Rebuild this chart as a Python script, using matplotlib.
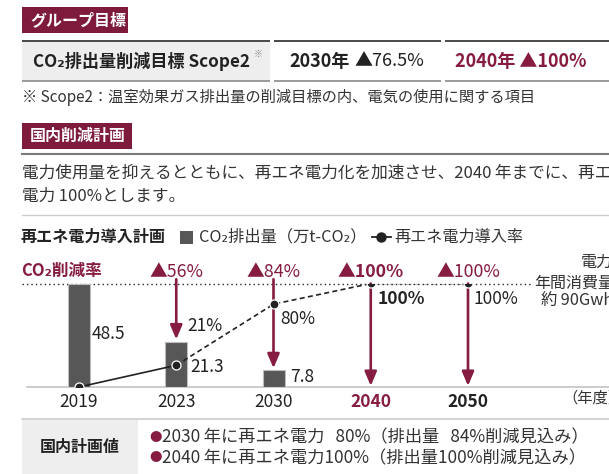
import matplotlib
matplotlib.use("Agg")
import matplotlib.pyplot as plt
from matplotlib.patches import Rectangle
from matplotlib.transforms import blended_transform_factory

plt.rcParams['font.family'] = ['Noto Sans CJK JP', 'DejaVu Sans']

# ---- data ----
years = ["2019", "2023", "2030", "2040", "2050"]
co2 = [48.5, 21.3, 7.8, 0, 0]            # CO2排出量（万t-CO2）
renew = [0, 21, 80, 100, 100]            # 再エネ電力導入率 (%)
reduction = ["", "▲56%", "▲84%", "▲100%", "▲100%"]
bar_labels = ["48.5", "21.3", "7.8"]
renew_labels = ["", "21%", "80%", "100%", "100%"]

MAROON = '#861c41'
HEAD = '#7e1a3c'
DARK = '#222222'
TXT = '#333333'
BAR = '#575757'

W, H = 609, 474
fig = plt.figure(figsize=(W / 100, H / 100), dpi=100)
bg = fig.add_axes([0, 0, 1, 1])
bg.set_xlim(0, W)
bg.set_ylim(H, 0)
bg.axis('off')

def T(x, y, s, size=11, weight='normal', color=TXT, ha='left', va='center', **kw):
    return bg.text(x, y, s, fontsize=size, fontweight=weight, color=color,
                   ha=ha, va=va, **kw)

# ---- Group target header ----
bg.add_patch(Rectangle((22, 7), 106, 26, color=HEAD, lw=0))
T(30, 20, "グループ目標", 11.5, 'bold', 'white')

bg.add_patch(Rectangle((22, 41), 248, 40, color='#eeeeee', lw=0))
for x0, x1 in [(22, 270), (274, 441), (445, 609)]:
    bg.plot([x0, x1], [40.5, 40.5], color='#4a4a4a', lw=1.4, solid_capstyle='butt')
    bg.plot([x0, x1], [81, 81], color='#8a8a8a', lw=1.2, solid_capstyle='butt')
T(33, 61, "CO₂排出量削減目標 Scope2", 12.3, 'bold', DARK)
T(254, 54, "※", 6.5, 'normal', '#888888')
T(289, 61, "2030年", 13, 'bold', DARK)
T(354, 61, "▲76.5%", 13, 'normal', DARK)
T(455, 61, "2040年 ▲100%", 13, 'bold', MAROON)
T(22, 97, "※ Scope2：温室効果ガス排出量の削減目標の内、電気の使用に関する項目", 11, 'normal', TXT)

# ---- Domestic plan header ----
bg.add_patch(Rectangle((22, 123), 110, 26, color=HEAD, lw=0))
T(30, 136, "国内削減計画", 11.5, 'bold', 'white')
bg.plot([22, W], [154, 154], color='#7a7a7a', lw=1.5)
T(22, 173, "電力使用量を抑えるとともに、再エネ電力化を加速させ、2040\u2009年までに、再エネ", 12, 'normal', TXT)
T(22, 196, "電力\u2009100%とします。", 12, 'normal', TXT)
bg.plot([22, W], [215, 215], color='#cccccc', lw=1)

# ---- legend row ----
T(21, 237, "再エネ電力導入計画", 11.6, 'bold', DARK)
bg.add_patch(Rectangle((180, 231), 13, 13, color=BAR, lw=0))
T(199, 237, "CO₂排出量（万t-CO₂）", 11.7, 'normal', TXT)
bg.plot([372, 391], [237, 237], color=DARK, lw=1.3)
bg.plot([381], [237], 'o', color=DARK, ms=6.5)
T(394, 237, "再エネ電力導入率", 11.6, 'normal', TXT)

T(21, 271, "CO₂削減率", 12, 'bold', MAROON)

# dotted 100% reference line
bg.plot([22, 533], [283.5, 283.5], color=DARK, lw=1.0, linestyle=(0, (1, 2.2)))
# baseline
bg.plot([27, W], [387, 387], color='#c4c4c4', lw=1.2)

# right side note (cut at edge, as in the reference)
T(581, 262, "電力", 11.5, 'normal', TXT)
T(534, 283, "年間消費量", 11.5, 'normal', TXT)
T(541, 301, "約\u200990Gwh", 11.8, 'normal', TXT)

# ---- chart axes ----
x0px, x1px, y0px, y1px = 22, 609, 387, 283.5
step = 97.25
first = 79
ax = fig.add_axes([x0px / W, (H - y0px) / H, (x1px - x0px) / W, (y0px - y1px) / H])
ax.set_xlim((x0px - first) / step, (x1px - first) / step)
ax.set_ylim(0, 48.5)
ax.axis('off')
ax.patch.set_alpha(0)
ax2 = ax.twinx()
ax2.set_ylim(0, 100)
ax2.axis('off')
ax2.patch.set_alpha(0)

xs = list(range(len(years)))
ax.bar(xs[:3], co2[:3], width=22 / step, color=BAR, edgecolor='#bdbdbd', lw=0.8, zorder=2)

# arrows
for i in range(1, 5):
    end = co2[i] + (1.0 if co2[i] > 0 else 0.5)
    start = 50.5 if i < 3 else 48.5
    ax.annotate('', xy=(i, end), xytext=(i, start),
                arrowprops=dict(arrowstyle='-|>,head_length=0.85,head_width=0.36',
                                color=MAROON, lw=1.9, shrinkA=0, shrinkB=0),
                zorder=3)

# renewable line
ax2.plot(xs[:2], renew[:2], color=DARK, lw=1.2, zorder=4)
ax2.plot(xs[1:], renew[1:], color=DARK, lw=1.2, linestyle=(0, (3, 2)), zorder=4)
ax2.plot(xs, renew, 'o', color=DARK, ms=6.5, mec='white', mew=0.9, zorder=5)

bt = blended_transform_factory(ax.transData, bg.transData)
# reduction labels
for i, s in enumerate(reduction):
    if s:
        bold = (i == 3)
        bg.text(i, 272, s, transform=bt, ha='center', va='center', fontsize=12.8,
                fontweight='bold' if bold else 'normal', color=MAROON)
# bar labels
bg.text(0 + 13 / step, 334, bar_labels[0], transform=bt, fontsize=12.5, color=DARK, va='center')
bg.text(1 + 14 / step, 367, bar_labels[1], transform=bt, fontsize=12.5, color=DARK, va='center')
bg.text(2 + 17 / step, 377, bar_labels[2], transform=bt, fontsize=12.5, color=DARK, va='center')
# renewable labels
bg.text(1 + 11 / step, 326, renew_labels[1], transform=bt, fontsize=12.5, color=DARK, va='center')
bg.text(2 + 7 / step, 319, renew_labels[2], transform=bt, fontsize=12.5, color=DARK, va='center')
bg.text(3 + 7 / step, 299, renew_labels[3], transform=bt, fontsize=12.5, color=DARK, va='center', fontweight='bold')
bg.text(4 + 6 / step, 299, renew_labels[4], transform=bt, fontsize=12.5, color=DARK, va='center')

# year labels
for i, y in enumerate(years):
    col = MAROON if i == 3 else DARK
    wt = 'bold' if i >= 3 else 'normal'
    bg.text(i, 402, y, transform=bt, ha='center', va='center', fontsize=12.5, color=col, fontweight=wt)
T(562, 398, "（年度）", 11, 'normal', TXT)

# ---- bottom table ----
bg.plot([22, W], [418.5, 418.5], color='#cccccc', lw=1.2)
bg.add_patch(Rectangle((22, 419.5), 116, 55, color='#eeeeee', lw=0))
T(80, 447, "国内計画値", 11.5, 'bold', DARK, ha='center')
for yy, s in [(437, "2030\u2009年に再エネ電力\u200780%（排出量\u200784%削減見込み）"),
              (458, "2040\u2009年に再エネ電力100%（排出量100%削減見込み）")]:
    T(149, yy, "●", 9, 'normal', MAROON)
    T(162, yy, s, 12.4, 'normal', TXT)

fig.savefig("out.png", dpi=100)
